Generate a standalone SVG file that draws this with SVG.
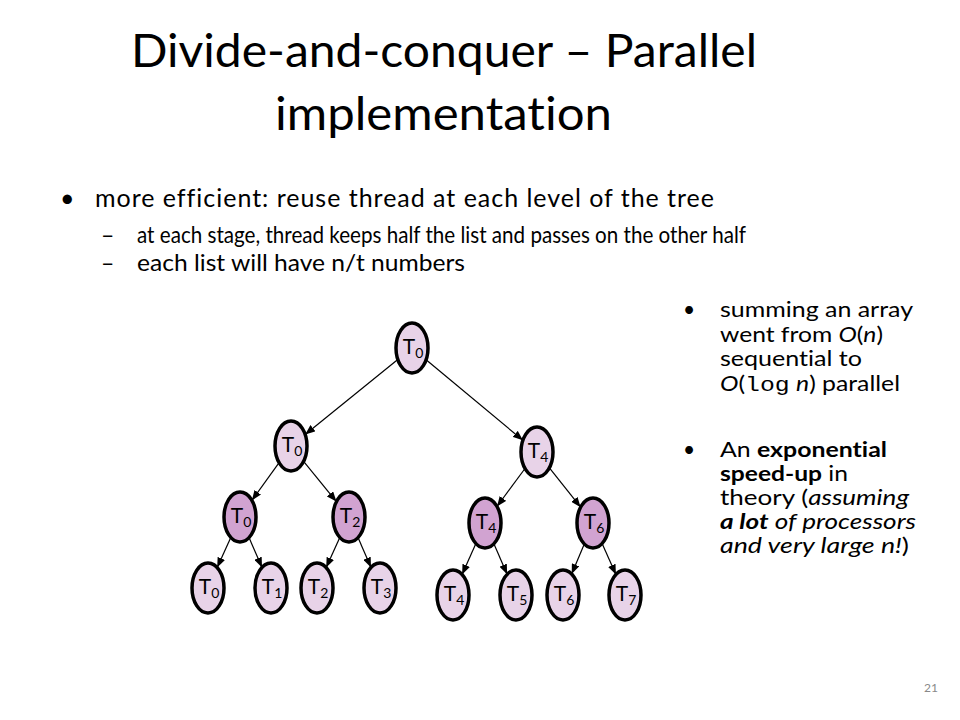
<svg xmlns="http://www.w3.org/2000/svg" width="960" height="720" viewBox="0 0 960 720">
<defs>
<marker id="ah" viewBox="0 0 10 8" refX="10" refY="4" markerWidth="10" markerHeight="8" markerUnits="userSpaceOnUse" orient="auto">
<path d="M0,0 L10,4 L0,8 z" fill="#000"/>
</marker>
<style>
text{font-variant-ligatures:none;font-feature-settings:"liga" 0,"clig" 0}
.t{font-family:Lato,"Open Sans","Liberation Sans",sans-serif;fill:#000}
.title{font-size:46px}
.b1{font-size:25px}
.b1s{font-size:23px}
.b2{font-size:21px}
.lbl{font-family:Lato,"Open Sans","Liberation Sans",sans-serif;font-size:21px;text-anchor:middle;fill:#000}
.sub{font-size:14px}
.nl{fill:#E8D3E8;stroke:#000;stroke-width:3.5}
.nd{fill:#D1A3D1;stroke:#000;stroke-width:3.5}
.e{stroke:#000;stroke-width:1.2;fill:none;marker-end:url(#ah)}
.i{font-style:italic}
.bo{font-weight:bold}
.m{font-family:"Liberation Mono",monospace}
</style>
</defs>
<rect width="960" height="720" fill="#fff"/>
<g id="title">
<text class="t title" x="131" y="67" textLength="626" lengthAdjust="spacingAndGlyphs">Divide-and-conquer – Parallel</text>
<text class="t title" x="275" y="130" textLength="337" lengthAdjust="spacingAndGlyphs">implementation</text>
</g>
<g id="bullets">
<text class="t b1" x="60" y="207">•</text>
<text class="t b1" x="95" y="207" textLength="619">more efficient: reuse thread at each level of the tree</text>
<text class="t b1s" x="101" y="243">–</text>
<text class="t b1s" x="137" y="243" textLength="609" lengthAdjust="spacingAndGlyphs">at each stage, thread keeps half the list and passes on the other half</text>
<text class="t b1s" x="101" y="271">–</text>
<text class="t b1s" x="137" y="271" textLength="328" lengthAdjust="spacingAndGlyphs">each list will have n/t numbers</text>
</g>
<g id="side">
<text class="t b2" x="683" y="317">•</text>
<text class="t b2" x="720" y="317" textLength="193" lengthAdjust="spacingAndGlyphs">summing an array</text>
<text class="t b2" x="720" y="342" textLength="163" lengthAdjust="spacingAndGlyphs">went from <tspan class="i">O</tspan>(<tspan class="i">n</tspan>)</text>
<text class="t b2" x="720" y="366" textLength="142" lengthAdjust="spacingAndGlyphs">sequential to</text>
<text class="t b2" x="720" y="391" textLength="180" lengthAdjust="spacingAndGlyphs"><tspan class="i">O</tspan>(<tspan class="m">log</tspan> <tspan class="i">n</tspan>) parallel</text>
<text class="t b2" x="683" y="457">•</text>
<text class="t b2" x="720" y="457" textLength="167" lengthAdjust="spacingAndGlyphs">An <tspan class="bo">exponential</tspan></text>
<text class="t b2" x="720" y="481" textLength="128" lengthAdjust="spacingAndGlyphs"><tspan class="bo">speed-up</tspan> in</text>
<text class="t b2" x="720" y="505" textLength="189" lengthAdjust="spacingAndGlyphs">theory (<tspan class="i">assuming</tspan></text>
<text class="t b2" x="720" y="529" textLength="196" lengthAdjust="spacingAndGlyphs"><tspan class="i bo">a lot</tspan><tspan class="i"> of processors</tspan></text>
<text class="t b2" x="720" y="553" textLength="189" lengthAdjust="spacingAndGlyphs"><tspan class="i">and very large n!</tspan>)</text>
</g>
<g id="connectors">
<line class="e" x1="397.8" y1="359.5" x2="305.2" y2="434.5"/>
<line class="e" x1="426.1" y1="359.8" x2="522.9" y2="440.3"/>
<line class="e" x1="279.1" y1="462.6" x2="251.9" y2="500.4"/>
<line class="e" x1="303.6" y1="461.4" x2="336.4" y2="501.6"/>
<line class="e" x1="525" y1="468.5" x2="497" y2="506.5"/>
<line class="e" x1="549.4" y1="467.8" x2="580.6" y2="507.2"/>
<line class="e" x1="230.8" y1="537.4" x2="217.2" y2="567.6"/>
<line class="e" x1="249" y1="537.6" x2="262" y2="567.4"/>
<line class="e" x1="339.8" y1="537.4" x2="326.2" y2="567.6"/>
<line class="e" x1="358" y1="537.6" x2="371" y2="567.4"/>
<line class="e" x1="475.9" y1="543.5" x2="462.1" y2="574.5"/>
<line class="e" x1="493.9" y1="543.7" x2="507.1" y2="574.3"/>
<line class="e" x1="584.3" y1="544" x2="571.7" y2="574"/>
<line class="e" x1="602.1" y1="543.5" x2="615.9" y2="574.5"/>
</g>
<g id="n-root"><ellipse class="nl" cx="412" cy="348" rx="16" ry="25"/><text class="lbl" x="413" y="354">T<tspan class="sub" dy="4">0</tspan></text></g>
<g id="n-l1a"><ellipse class="nl" cx="291" cy="446" rx="16" ry="25"/><text class="lbl" x="292" y="452">T<tspan class="sub" dy="4">0</tspan></text></g>
<g id="n-l1b"><ellipse class="nl" cx="537" cy="452" rx="16" ry="25"/><text class="lbl" x="538" y="458">T<tspan class="sub" dy="4">4</tspan></text></g>
<g id="n-l2a"><ellipse class="nd" cx="240" cy="517" rx="16" ry="25"/><text class="lbl" x="241" y="523">T<tspan class="sub" dy="4">0</tspan></text></g>
<g id="n-l2b"><ellipse class="nd" cx="349" cy="517" rx="16" ry="25"/><text class="lbl" x="350" y="523">T<tspan class="sub" dy="4">2</tspan></text></g>
<g id="n-l2c"><ellipse class="nd" cx="485" cy="523" rx="16" ry="25"/><text class="lbl" x="486" y="529">T<tspan class="sub" dy="4">4</tspan></text></g>
<g id="n-l2d"><ellipse class="nd" cx="593" cy="523" rx="16" ry="25"/><text class="lbl" x="594" y="529">T<tspan class="sub" dy="4">6</tspan></text></g>
<g id="n-t0"><ellipse class="nl" cx="208" cy="588" rx="16" ry="25"/><text class="lbl" x="209" y="594">T<tspan class="sub" dy="4">0</tspan></text></g>
<g id="n-t1"><ellipse class="nl" cx="271" cy="588" rx="16" ry="25"/><text class="lbl" x="272" y="594">T<tspan class="sub" dy="4">1</tspan></text></g>
<g id="n-t2"><ellipse class="nl" cx="317" cy="588" rx="16" ry="25"/><text class="lbl" x="318" y="594">T<tspan class="sub" dy="4">2</tspan></text></g>
<g id="n-t3"><ellipse class="nl" cx="380" cy="588" rx="16" ry="25"/><text class="lbl" x="381" y="594">T<tspan class="sub" dy="4">3</tspan></text></g>
<g id="n-t4"><ellipse class="nl" cx="453" cy="595" rx="16" ry="25"/><text class="lbl" x="454" y="601">T<tspan class="sub" dy="4">4</tspan></text></g>
<g id="n-t5"><ellipse class="nl" cx="516" cy="595" rx="16" ry="25"/><text class="lbl" x="517" y="601">T<tspan class="sub" dy="4">5</tspan></text></g>
<g id="n-t6"><ellipse class="nl" cx="563" cy="595" rx="16" ry="25"/><text class="lbl" x="564" y="601">T<tspan class="sub" dy="4">6</tspan></text></g>
<g id="n-t7"><ellipse class="nl" cx="625" cy="595" rx="16" ry="25"/><text class="lbl" x="626" y="601">T<tspan class="sub" dy="4">7</tspan></text></g>
<text x="931" y="692" font-family="Lato,'Liberation Sans',sans-serif" font-size="12" fill="#898989" text-anchor="middle">21</text>
</svg>
